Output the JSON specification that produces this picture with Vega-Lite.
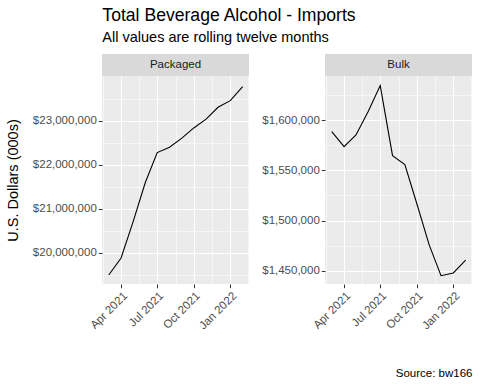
{
  "$schema": "https://vega.github.io/schema/vega-lite/v6.json",
  "background": "white",
  "padding": {"left": 5, "top": 6, "right": 8, "bottom": 5},
  "title": {
    "text": "Total Beverage Alcohol - Imports",
    "subtitle": "All values are rolling twelve months",
    "anchor": "start",
    "font": "Liberation Sans",
    "subtitleFont": "Liberation Sans",
    "fontSize": 17.6,
    "subtitleFontSize": 14.5,
    "fontWeight": "normal",
    "color": "black",
    "subtitleColor": "black",
    "subtitlePadding": 6,
    "offset": 10,
    "dx": 97
  },
  "config": {
    "font": "Liberation Sans",
    "view": {"stroke": null},
    "axis": {
      "domain": false,
      "tickColor": "#333333",
      "tickSize": 3.7,
      "tickWidth": 1,
      "labelColor": "#4d4d4d",
      "labelFont": "Liberation Sans",
      "labelFontSize": 11.5,
      "labelPadding": 2,
      "labelOverlap": false,
      "gridColor": "white",
      "titleFont": "Liberation Sans",
      "titleFontWeight": "normal",
      "titleColor": "black"
    }
  },
  "datasets": {
    "imports": [
      {"type": "Packaged", "date": "2021-03-01T00:00:00", "value": 19500000},
      {"type": "Packaged", "date": "2021-04-01T00:00:00", "value": 19886000},
      {"type": "Packaged", "date": "2021-05-01T00:00:00", "value": 20700000},
      {"type": "Packaged", "date": "2021-06-01T00:00:00", "value": 21600000},
      {"type": "Packaged", "date": "2021-07-01T00:00:00", "value": 22280000},
      {"type": "Packaged", "date": "2021-08-01T00:00:00", "value": 22400000},
      {"type": "Packaged", "date": "2021-09-01T00:00:00", "value": 22610000},
      {"type": "Packaged", "date": "2021-10-01T00:00:00", "value": 22840000},
      {"type": "Packaged", "date": "2021-11-01T00:00:00", "value": 23040000},
      {"type": "Packaged", "date": "2021-12-01T00:00:00", "value": 23310000},
      {"type": "Packaged", "date": "2022-01-01T00:00:00", "value": 23460000},
      {"type": "Packaged", "date": "2022-02-01T00:00:00", "value": 23780000},
      {"type": "Bulk", "date": "2021-03-01T00:00:00", "value": 1588700},
      {"type": "Bulk", "date": "2021-04-01T00:00:00", "value": 1573700},
      {"type": "Bulk", "date": "2021-05-01T00:00:00", "value": 1585400},
      {"type": "Bulk", "date": "2021-06-01T00:00:00", "value": 1609000},
      {"type": "Bulk", "date": "2021-07-01T00:00:00", "value": 1634600},
      {"type": "Bulk", "date": "2021-08-01T00:00:00", "value": 1564700},
      {"type": "Bulk", "date": "2021-09-01T00:00:00", "value": 1555800},
      {"type": "Bulk", "date": "2021-10-01T00:00:00", "value": 1517000},
      {"type": "Bulk", "date": "2021-11-01T00:00:00", "value": 1476000},
      {"type": "Bulk", "date": "2021-12-01T00:00:00", "value": 1445000},
      {"type": "Bulk", "date": "2022-01-01T00:00:00", "value": 1447700},
      {"type": "Bulk", "date": "2022-02-01T00:00:00", "value": 1460600}
    ],
    "strips": [
      {"panel": "Packaged"},
      {"panel": "Bulk"}
    ]
  },
  "spacing": 12,
  "hconcat": [
    {
      "spacing": 0,
      "vconcat": [
        {
          "width": 147,
          "height": 22,
          "data": {"name": "strips"},
          "transform": [{"filter": "datum.panel === 'Packaged'"}],
          "view": {"fill": "#d9d9d9", "stroke": null},
          "mark": {"type": "text", "fontSize": 11.5, "color": "#1a1a1a", "font": "Liberation Sans"},
          "encoding": {"text": {"field": "panel"}}
        },
        {
          "width": 147,
          "height": 208,
          "data": {"name": "imports"},
          "transform": [{"filter": "datum.type === 'Packaged'"}],
          "view": {"fill": "#ebebeb", "stroke": null},
          "layer": [
            {
              "mark": {"type": "line", "strokeOpacity": 0},
              "encoding": {
                "x": {
                  "field": "date", "type": "temporal",
                  "scale": {"domain": [{"year": 2021, "month": 2, "date": 12}, {"year": 2022, "month": 2, "date": 17}], "nice": false},
                  "axis": {"orient": "bottom", "labels": false, "ticks": false, "title": null, "grid": true, "gridWidth": 0.55,
                    "values": [{"year": 2021, "month": 2, "date": 14}, {"year": 2021, "month": 5, "date": 16}, {"year": 2021, "month": 8, "date": 16}, {"year": 2021, "month": 11, "date": 16}, {"year": 2022, "month": 2, "date": 15}]}
                },
                "y": {
                  "field": "value", "type": "quantitative",
                  "scale": {"domain": [19295000, 24020000], "nice": false, "zero": false},
                  "axis": {"orient": "left", "labels": false, "ticks": false, "title": null, "grid": true, "gridWidth": 0.55,
                    "values": [19500000, 20500000, 21500000, 22500000, 23500000]}
                }
              }
            },
            {
              "mark": {"type": "line", "color": "black", "strokeWidth": 1.1},
              "encoding": {
                "x": {
                  "field": "date", "type": "temporal",
                  "axis": {"orient": "bottom", "grid": true, "gridWidth": 1.1, "format": "%b %Y", "labelAngle": -45, "title": null,
                    "values": [{"year": 2021, "month": 4, "date": 1}, {"year": 2021, "month": 7, "date": 1}, {"year": 2021, "month": 10, "date": 1}, {"year": 2022, "month": 1, "date": 1}]}
                },
                "y": {
                  "field": "value", "type": "quantitative",
                  "axis": {"orient": "left", "grid": true, "gridWidth": 1.1, "format": "$,.0f",
                    "values": [20000000, 21000000, 22000000, 23000000],
                    "title": "U.S. Dollars (000s)", "titleFontSize": 14.5, "titlePadding": 12}
                }
              }
            }
          ],
          "resolve": {"axis": {"x": "independent", "y": "independent"}}
        }
      ]
    },
    {
      "spacing": 0,
      "vconcat": [
        {
          "width": 147,
          "height": 22,
          "data": {"name": "strips"},
          "transform": [{"filter": "datum.panel === 'Bulk'"}],
          "view": {"fill": "#d9d9d9", "stroke": null},
          "mark": {"type": "text", "fontSize": 11.5, "color": "#1a1a1a", "font": "Liberation Sans"},
          "encoding": {"text": {"field": "panel"}}
        },
        {
          "width": 147,
          "height": 208,
          "data": {"name": "imports"},
          "transform": [{"filter": "datum.type === 'Bulk'"}],
          "view": {"fill": "#ebebeb", "stroke": null},
          "layer": [
            {
              "mark": {"type": "line", "strokeOpacity": 0},
              "encoding": {
                "x": {
                  "field": "date", "type": "temporal",
                  "scale": {"domain": [{"year": 2021, "month": 2, "date": 12}, {"year": 2022, "month": 2, "date": 17}], "nice": false},
                  "axis": {"orient": "bottom", "labels": false, "ticks": false, "title": null, "grid": true, "gridWidth": 0.55,
                    "values": [{"year": 2021, "month": 2, "date": 14}, {"year": 2021, "month": 5, "date": 16}, {"year": 2021, "month": 8, "date": 16}, {"year": 2021, "month": 11, "date": 16}, {"year": 2022, "month": 2, "date": 15}]}
                },
                "y": {
                  "field": "value", "type": "quantitative",
                  "scale": {"domain": [1436700, 1644200], "nice": false, "zero": false},
                  "axis": {"orient": "left", "labels": false, "ticks": false, "title": null, "grid": true, "gridWidth": 0.55,
                    "values": [1475000, 1525000, 1575000, 1625000]}
                }
              }
            },
            {
              "mark": {"type": "line", "color": "black", "strokeWidth": 1.1},
              "encoding": {
                "x": {
                  "field": "date", "type": "temporal",
                  "axis": {"orient": "bottom", "grid": true, "gridWidth": 1.1, "format": "%b %Y", "labelAngle": -45,
                    "values": [{"year": 2021, "month": 4, "date": 1}, {"year": 2021, "month": 7, "date": 1}, {"year": 2021, "month": 10, "date": 1}, {"year": 2022, "month": 1, "date": 1}],
                    "title": "Source: bw166", "titleAnchor": "end", "titleFontSize": 11.5, "titlePadding": 36}
                },
                "y": {
                  "field": "value", "type": "quantitative",
                  "axis": {"orient": "left", "grid": true, "gridWidth": 1.1, "format": "$,.0f",
                    "values": [1450000, 1500000, 1550000, 1600000], "title": null}
                }
              }
            }
          ],
          "resolve": {"axis": {"x": "independent", "y": "independent"}}
        }
      ]
    }
  ]
}
